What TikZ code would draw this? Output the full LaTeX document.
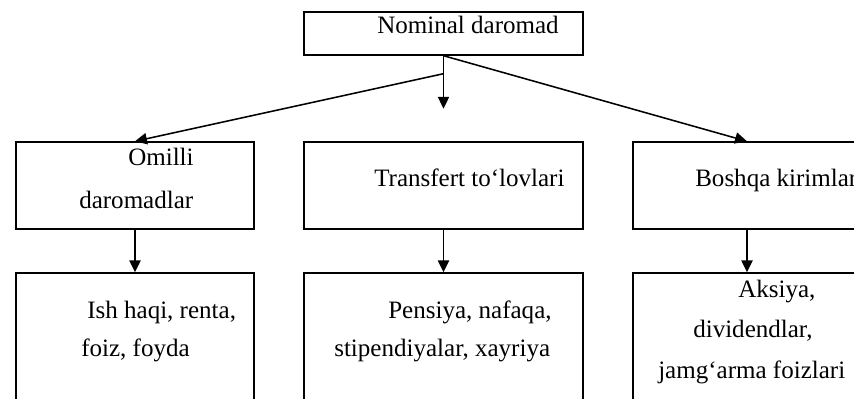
\documentclass[tikz,border=0pt]{standalone}
\usepackage{fontspec}
\setmainfont{Liberation Serif}
\usetikzlibrary{arrows.meta,calc}

\begin{document}
\begin{tikzpicture}[x=0.025cm,y=-0.025cm,
	box/.style={draw,line width=1pt,inner sep=0pt},
	txt/.style={anchor=base west,inner sep=0pt,font=\fontsize{17.8}{20}\selectfont},
	arr/.style={line width=1.1pt,-{Triangle[length=8.5pt,width=8pt]}}]
	\useasboundingbox (0,0) rectangle (854,399);
	\clip (0,0) rectangle (854,399);

	\node [box,minimum width=6.975cm,minimum height=1.075cm] (top) at (443.5,33.5) {};
	\node [txt] (ttop) at (377,34) {Nominal daromad};

	% ustunlar: a, b, c
	\foreach \n/\x/\w in {a/135/5.95,b/443.5/6.975,c/747/5.7}
	  {\node [box,minimum width=\w cm,minimum height=2.175cm] (\n1) at (\x,185.5) {};
	   \node [box,minimum width=\w cm,minimum height=3.75cm] (\n2) at (\x,348) {};
	   \draw[arr] (\n1.south) -- (\n2.north);}

	\coordinate (split) at ($(top.south)+(0,18)$);
	\coordinate (drop) at ($(top.south)+(0,53)$);
	\draw[arr] (top.south) -- (drop);
	\draw[arr] (split) -- (a1.north);
	\draw[arr] (top.south) -- (c1.north);

	\node [txt] (ta1) at (128,166) {Omilli};
	\node [txt] (ta1b) at (79,209) {daromadlar};
	\node [txt] (tb1) at (374,187) {Transfert to‘lovlari};
	\node [txt] (tc1) at (695,187) {Boshqa kirimlar};
	\node [txt] (ta2) at (87,318) {Ish haqi, renta,};
	\node [txt] (ta2b) at (81,356) {foiz, foyda};
	\node [txt] (tb2) at (388,318) {Pensiya, nafaqa,};
	\node [txt] (tb2b) at (334,356) {stipendiyalar, xayriya};
	\node [txt] (tc2) at (738,297) {Aksiya,};
	\node [txt] (tc2b) at (693,337) {dividendlar,};
	\node [txt] (tc2c) at (658,378) {jamg‘arma foizlari};
\end{tikzpicture}
\end{document}
